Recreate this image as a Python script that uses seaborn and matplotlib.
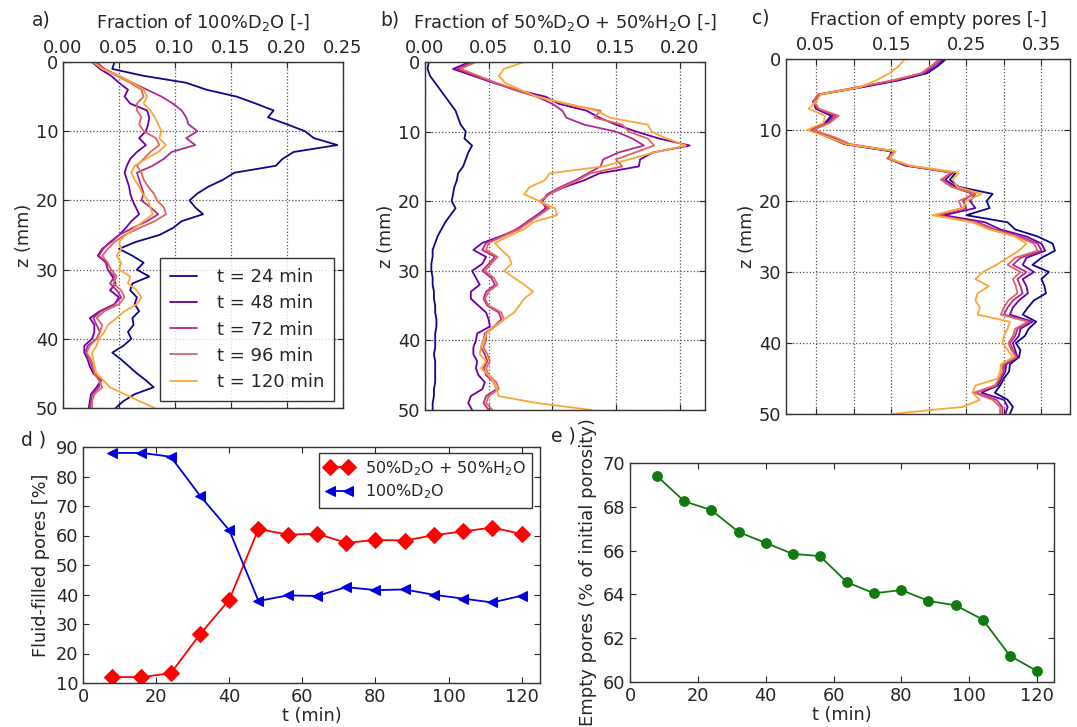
import numpy as np
import pandas as pd
import matplotlib
matplotlib.use("Agg")
import matplotlib.pyplot as plt
import seaborn as sns

# ---------------- data ----------------
z_mm = list(range(0, 51))
times = ["t = 24 min", "t = 48 min", "t = 72 min", "t = 96 min", "t = 120 min"]
colors = ["#0d0887", "#6a00a8", "#b12a90", "#e16462", "#fca636"]

# panel a: fraction of 100% D2O
a_24 = [0.046, 0.044, 0.072, 0.110, 0.128, 0.155, 0.172, 0.188, 0.183, 0.200, 0.216, 0.224, 0.245, 0.206, 0.196, 0.190,
        0.153, 0.143, 0.130, 0.120, 0.113, 0.118, 0.125, 0.106, 0.098, 0.086, 0.065, 0.050, 0.062, 0.072, 0.066, 0.077,
        0.062, 0.060, 0.066, 0.064, 0.068, 0.062, 0.063, 0.058, 0.061, 0.054, 0.044, 0.052, 0.059, 0.066, 0.074, 0.081,
        0.064, 0.054, 0.047]
a_48 = [0.026, 0.033, 0.043, 0.050, 0.058, 0.055, 0.060, 0.075, 0.077, 0.076, 0.074, 0.068, 0.074, 0.066, 0.060, 0.057,
        0.055, 0.057, 0.059, 0.060, 0.062, 0.065, 0.068, 0.061, 0.056, 0.050, 0.043, 0.035, 0.031, 0.039, 0.040, 0.044,
        0.047, 0.042, 0.050, 0.046, 0.033, 0.024, 0.028, 0.028, 0.026, 0.019, 0.019, 0.022, 0.024, 0.027, 0.034, 0.030,
        0.025, 0.024, 0.023]
a_72 = [0.030, 0.037, 0.050, 0.062, 0.075, 0.088, 0.098, 0.106, 0.110, 0.112, 0.120, 0.110, 0.118, 0.097, 0.090, 0.080,
        0.066, 0.068, 0.070, 0.072, 0.070, 0.078, 0.085, 0.075, 0.062, 0.050, 0.042, 0.036, 0.032, 0.038, 0.040, 0.046,
        0.042, 0.048, 0.052, 0.046, 0.034, 0.027, 0.030, 0.033, 0.030, 0.022, 0.020, 0.024, 0.026, 0.028, 0.034, 0.032,
        0.026, 0.025, 0.024]
a_96 = [0.028, 0.036, 0.048, 0.060, 0.070, 0.072, 0.066, 0.066, 0.070, 0.068, 0.072, 0.083, 0.086, 0.078, 0.072, 0.066,
        0.070, 0.072, 0.076, 0.081, 0.084, 0.090, 0.092, 0.082, 0.068, 0.055, 0.046, 0.040, 0.035, 0.040, 0.043, 0.048,
        0.045, 0.052, 0.055, 0.050, 0.037, 0.030, 0.035, 0.033, 0.030, 0.024, 0.021, 0.025, 0.027, 0.028, 0.032, 0.035,
        0.028, 0.026, 0.026]
a_120 = [0.027, 0.035, 0.050, 0.062, 0.072, 0.075, 0.072, 0.078, 0.082, 0.085, 0.088, 0.086, 0.092, 0.085, 0.074, 0.064,
         0.061, 0.064, 0.068, 0.071, 0.076, 0.078, 0.080, 0.072, 0.064, 0.056, 0.050, 0.052, 0.048, 0.052, 0.050, 0.060,
         0.058, 0.066, 0.070, 0.066, 0.055, 0.048, 0.040, 0.037, 0.032, 0.030, 0.026, 0.027, 0.028, 0.030, 0.036, 0.042,
         0.055, 0.068, 0.082]

# panel b: fraction of 50% D2O + 50% H2O
b_24 = [0.003, 0.002, 0.004, 0.008, 0.012, 0.016, 0.020, 0.024, 0.026, 0.028, 0.032, 0.031, 0.037, 0.034, 0.032, 0.030,
        0.026, 0.025, 0.023, 0.022, 0.021, 0.024, 0.020, 0.016, 0.013, 0.010, 0.008, 0.006, 0.006, 0.005, 0.005, 0.006,
        0.006, 0.007, 0.007, 0.008, 0.008, 0.009, 0.009, 0.008, 0.008, 0.008, 0.007, 0.008, 0.008, 0.008, 0.008, 0.007,
        0.007, 0.006, 0.006]
b_48 = [0.035, 0.022, 0.038, 0.054, 0.072, 0.095, 0.105, 0.127, 0.137, 0.150, 0.166, 0.184, 0.208, 0.179, 0.169, 0.168,
        0.137, 0.125, 0.109, 0.097, 0.092, 0.095, 0.088, 0.080, 0.074, 0.060, 0.045, 0.038, 0.048, 0.045, 0.037, 0.040,
        0.043, 0.036, 0.036, 0.042, 0.048, 0.050, 0.051, 0.041, 0.040, 0.038, 0.038, 0.041, 0.040, 0.042, 0.047, 0.045,
        0.036, 0.034, 0.037]
b_72 = [0.037, 0.025, 0.040, 0.055, 0.070, 0.088, 0.100, 0.108, 0.111, 0.125, 0.150, 0.163, 0.172, 0.152, 0.140, 0.138,
        0.128, 0.118, 0.106, 0.096, 0.092, 0.096, 0.088, 0.080, 0.072, 0.061, 0.048, 0.045, 0.055, 0.050, 0.045, 0.052,
        0.055, 0.048, 0.046, 0.049, 0.058, 0.060, 0.054, 0.047, 0.046, 0.044, 0.047, 0.049, 0.046, 0.048, 0.054, 0.056,
        0.048, 0.046, 0.050]
b_96 = [0.040, 0.028, 0.042, 0.056, 0.072, 0.090, 0.110, 0.138, 0.133, 0.155, 0.160, 0.175, 0.180, 0.165, 0.150, 0.155,
        0.130, 0.120, 0.108, 0.098, 0.090, 0.098, 0.090, 0.082, 0.074, 0.062, 0.050, 0.048, 0.057, 0.052, 0.047, 0.054,
        0.057, 0.050, 0.047, 0.050, 0.060, 0.062, 0.055, 0.048, 0.048, 0.046, 0.049, 0.051, 0.048, 0.050, 0.056, 0.058,
        0.050, 0.048, 0.053]
b_120 = [0.078, 0.062, 0.058, 0.063, 0.075, 0.088, 0.112, 0.135, 0.145, 0.175, 0.178, 0.190, 0.205, 0.180, 0.160, 0.140,
         0.098, 0.094, 0.082, 0.078, 0.090, 0.102, 0.104, 0.085, 0.078, 0.066, 0.055, 0.060, 0.066, 0.068, 0.062, 0.070,
         0.078, 0.085, 0.078, 0.074, 0.070, 0.062, 0.054, 0.048, 0.046, 0.044, 0.043, 0.048, 0.044, 0.050, 0.054, 0.056,
         0.058, 0.088, 0.131]

# panel c: fraction of empty pores
c_24 = [0.223, 0.212, 0.198, 0.160, 0.110, 0.055, 0.047, 0.050, 0.070, 0.062, 0.044, 0.066, 0.088, 0.150, 0.148, 0.170,
        0.236, 0.228, 0.240, 0.285, 0.277, 0.281, 0.250, 0.305, 0.315, 0.345, 0.365, 0.368, 0.350, 0.338, 0.360, 0.350,
        0.354, 0.356, 0.340, 0.332, 0.325, 0.343, 0.333, 0.328, 0.316, 0.322, 0.320, 0.308, 0.307, 0.300, 0.295, 0.288,
        0.305, 0.312, 0.308]
c_48 = [0.220, 0.210, 0.196, 0.158, 0.108, 0.054, 0.046, 0.050, 0.072, 0.064, 0.044, 0.068, 0.090, 0.152, 0.146, 0.168,
        0.232, 0.222, 0.236, 0.262, 0.255, 0.262, 0.220, 0.275, 0.295, 0.330, 0.350, 0.355, 0.330, 0.325, 0.340, 0.325,
        0.330, 0.332, 0.320, 0.312, 0.308, 0.338, 0.322, 0.320, 0.312, 0.315, 0.318, 0.303, 0.302, 0.297, 0.292, 0.270,
        0.300, 0.305, 0.302]
c_72 = [0.216, 0.206, 0.192, 0.155, 0.105, 0.053, 0.046, 0.052, 0.076, 0.066, 0.045, 0.072, 0.094, 0.154, 0.145, 0.170,
        0.230, 0.218, 0.232, 0.258, 0.246, 0.250, 0.212, 0.265, 0.288, 0.322, 0.345, 0.350, 0.322, 0.312, 0.330, 0.318,
        0.322, 0.325, 0.312, 0.305, 0.300, 0.335, 0.318, 0.315, 0.308, 0.312, 0.317, 0.300, 0.300, 0.295, 0.290, 0.262,
        0.290, 0.298, 0.298]
c_96 = [0.214, 0.203, 0.190, 0.152, 0.104, 0.052, 0.047, 0.054, 0.080, 0.068, 0.046, 0.074, 0.096, 0.155, 0.145, 0.172,
        0.230, 0.216, 0.230, 0.262, 0.240, 0.244, 0.208, 0.262, 0.285, 0.318, 0.340, 0.345, 0.315, 0.305, 0.322, 0.312,
        0.316, 0.318, 0.306, 0.300, 0.296, 0.332, 0.315, 0.312, 0.306, 0.310, 0.316, 0.298, 0.298, 0.294, 0.288, 0.260,
        0.285, 0.295, 0.295]
c_120 = [0.168, 0.160, 0.148, 0.130, 0.108, 0.056, 0.050, 0.040, 0.062, 0.060, 0.038, 0.066, 0.090, 0.156, 0.148, 0.175,
         0.240, 0.232, 0.238, 0.270, 0.250, 0.246, 0.205, 0.258, 0.280, 0.315, 0.330, 0.320, 0.305, 0.290, 0.272, 0.262,
         0.280, 0.265, 0.262, 0.268, 0.265, 0.308, 0.305, 0.300, 0.298, 0.305, 0.312, 0.296, 0.295, 0.292, 0.262, 0.258,
         0.268, 0.245, 0.150]

# panel d / e: time series
t_min = [8, 16, 24, 32, 40, 48, 56, 64, 72, 80, 88, 96, 104, 112, 120]
mix_filled = [12.0, 12.0, 13.3, 26.5, 38.2, 62.2, 60.3, 60.6, 57.5, 58.5, 58.3, 60.1, 61.4, 62.7, 60.5]
d2o_filled = [88.0, 88.0, 86.7, 73.5, 61.8, 37.8, 39.7, 39.5, 42.5, 41.5, 41.7, 39.9, 38.6, 37.3, 39.6]
empty_pct = [69.4, 68.25, 67.85, 66.85, 66.35, 65.85, 65.75, 64.55, 64.05, 64.2, 63.7, 63.5, 62.85, 61.2, 60.5]

# ---------------- style ----------------
sns.set_style("white")
plt.rcParams["font.family"] = ["DejaVu Sans"]
plt.rcParams["font.size"] = 12
plt.rcParams["axes.edgecolor"] = "#333333"
plt.rcParams["axes.linewidth"] = 1.0


def profile_df(series):
    rows = []
    for lab, vals in zip(times, series):
        for z, v in zip(z_mm, vals):
            rows.append((lab, z, v))
    return pd.DataFrame(rows, columns=["time", "z", "frac"])


fig = plt.figure(figsize=(10.77, 7.27), dpi=100)
W, H = 1077, 727


def add_ax(l, r, t, b):
    return fig.add_axes([l / W, 1 - b / H, (r - l) / W, (b - t) / H])


ax_a = add_ax(63, 343, 62, 408)
ax_b = add_ax(425, 705, 62, 410)
ax_c = add_ax(786, 1070, 59, 414)
ax_d = add_ax(83, 540, 447, 683)
ax_e = add_ax(630, 1054, 463, 682)

panels = [
    (ax_a, [a_24, a_48, a_72, a_96, a_120], (0, 0.25), "Fraction of 100%D$_2$O [-]"),
    (ax_b, [b_24, b_48, b_72, b_96, b_120], (0, 0.22), "Fraction of 50%D$_2$O + 50%H$_2$O [-]"),
    (ax_c, [c_24, c_48, c_72, c_96, c_120], (0.01, 0.388), "Fraction of empty pores [-]"),
]

for ax, series, xl, lab in panels:
    df = profile_df(series)
    sns.lineplot(data=df, x="frac", y="z", hue="time", hue_order=times, palette=colors,
                 estimator=None, sort=False, orient="y", ax=ax, lw=1.3, legend=(ax is ax_a))
    ax.set_xlim(*xl)
    ax.set_ylim(50, 0)
    ax.set_yticks([0, 10, 20, 30, 40, 50])
    ax.xaxis.tick_top()
    ax.xaxis.set_label_position("top")
    ax.set_xlabel(lab, fontsize=12.8, labelpad=8)
    ax.set_ylabel("z (mm)", fontsize=12.8, labelpad=2)
    ax.grid(True, ls=":", color="#555555", lw=0.9)
    ax.tick_params(labelsize=12.8, direction="in", length=4, top=True, right=True, bottom=True, left=True,
                   labeltop=True, labelbottom=False)

ax_a.set_xticks([0, 0.05, 0.10, 0.15, 0.20, 0.25])
ax_a.set_xticklabels(["0.00", "0.05", "0.10", "0.15", "0.20", "0.25"])
ax_b.set_xticks([0, 0.05, 0.10, 0.15, 0.20])
ax_b.set_xticklabels(["0.00", "0.05", "0.10", "0.15", "0.20"])
ax_c.set_xticks([0.05, 0.10, 0.15, 0.20, 0.25, 0.30, 0.35])
ax_c.set_xticklabels(["0.05", "", "0.15", "", "0.25", "", "0.35"])

h, l = ax_a.get_legend_handles_labels()
leg = ax_a.legend(h, l, loc="lower right", fontsize=13, frameon=True, fancybox=False,
                  edgecolor="black", handlelength=1.5, borderpad=0.55, labelspacing=0.45,
                  handletextpad=1.1, borderaxespad=0.4, bbox_to_anchor=(0.995, 0.0))
leg.get_frame().set_linewidth(1.0)

# panel d
sns.lineplot(x=t_min, y=mix_filled, ax=ax_d, color="red", marker="D", markersize=8,
             markeredgecolor="red", lw=1.3, label="50%D$_2$O + 50%H$_2$O")
sns.lineplot(x=t_min, y=d2o_filled, ax=ax_d, color="#0000dd", marker="<", markersize=7.5,
             markeredgecolor="#0000dd", lw=1.3, label="100%D$_2$O")
ax_d.set_xlim(0, 125)
ax_d.set_ylim(10, 90)
ax_d.set_xticks([0, 20, 40, 60, 80, 100, 120])
ax_d.set_yticks([10, 20, 30, 40, 50, 60, 70, 80, 90])
ax_d.set_xlabel("t (min)", fontsize=12.8, labelpad=1)
ax_d.set_ylabel("Fluid-filled pores [%]", fontsize=12.8, labelpad=4)
ax_d.tick_params(labelsize=12.8, direction="in", length=4, top=True, right=True, bottom=True, left=True)
legd = ax_d.legend(loc="upper right", fontsize=11.5, numpoints=2, frameon=True, fancybox=False,
                   edgecolor="black", handlelength=1.7, borderpad=0.4, labelspacing=0.3,
                   handletextpad=0.8, borderaxespad=0.2, bbox_to_anchor=(0.99, 0.99))
legd.get_frame().set_linewidth(1.0)

# panel e
sns.lineplot(x=t_min, y=empty_pct, ax=ax_e, color="#107a10", marker="o", markersize=7,
             markeredgecolor="#107a10", lw=1.3)
ax_e.set_xlim(0, 125)
ax_e.set_ylim(60, 70)
ax_e.set_xticks([0, 20, 40, 60, 80, 100, 120])
ax_e.set_yticks([60, 62, 64, 66, 68, 70])
ax_e.set_xlabel("t (min)", fontsize=12.8, labelpad=1)
ax_e.set_ylabel("Empty pores (% of initial porosity)", fontsize=13, labelpad=4)
ax_e.tick_params(labelsize=12.8, direction="in", length=4, top=True, right=True, bottom=True, left=True)

# panel letters
fig.text(32 / W, 1 - 20 / H, "a)", fontsize=13.5, va="center")
fig.text(380 / W, 1 - 20 / H, "b)", fontsize=13.5, va="center")
fig.text(752 / W, 1 - 18 / H, "c)", fontsize=13.5, va="center")
fig.text(21 / W, 1 - 440 / H, "d )", fontsize=13.5, va="center")
fig.text(551 / W, 1 - 436 / H, "e )", fontsize=13.5, va="center")

fig.savefig("out.png", dpi=100)
